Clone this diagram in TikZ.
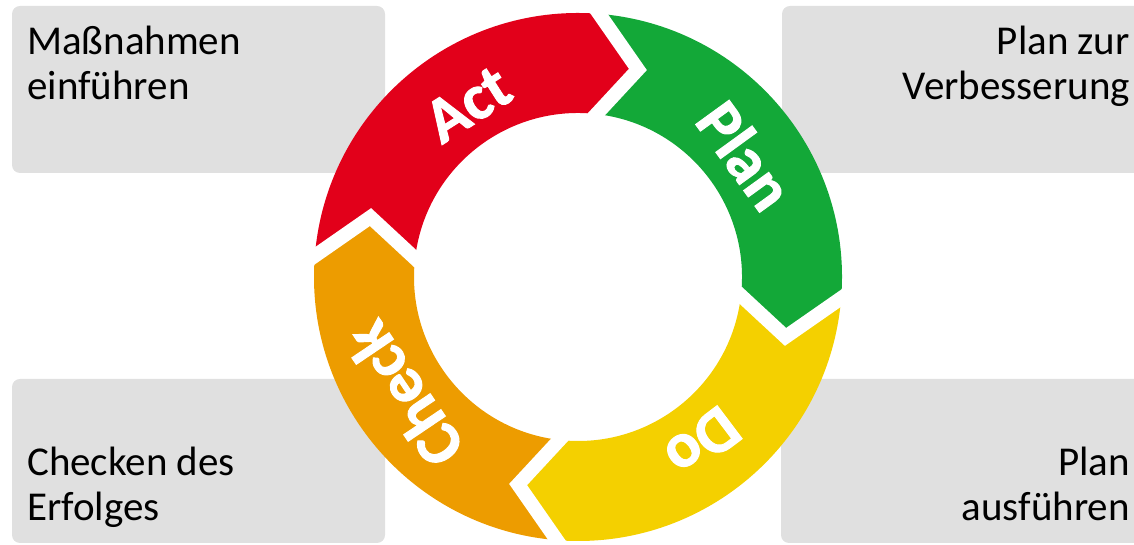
\documentclass[tikz,border=0pt]{standalone}
\usepackage{fontspec}
\setmainfont{Carlito}
\newfontfamily\ringfont{Carlito Bold}[FakeBold=1.5]
\usetikzlibrary{calc}
\definecolor{boxgray}{HTML}{E0E0E0}
\definecolor{actred}{HTML}{E2001A}
\definecolor{plangreen}{HTML}{13A838}
\definecolor{doyellow}{HTML}{F4D000}
\definecolor{checkorange}{HTML}{ED9C00}
\tikzset{
  greybox/.style={fill=boxgray, rounded corners=8pt},
  boxtext/.style={inner sep=0pt, font=\fontsize{41}{45}\selectfont, text=black},
  gapline/.style={draw=white, line width=14pt, line join=miter, line cap=butt},
  ringlabel/.style={inner sep=0pt, text=white, font=\ringfont\fontsize{64}{66}\selectfont}
}
\begin{document}
\begin{tikzpicture}[x=1pt,y=1pt]
\useasboundingbox (0,0) rectangle (1134,545);
% grey boxes
\fill[greybox] (12,372) rectangle (385,539);
\fill[greybox] (782,372) rectangle (1170,539);
\fill[greybox] (12,2) rectangle (385,166);
\fill[greybox] (781,2) rectangle (1170,166);
% box texts (base anchor = baseline of the last line)
\node[boxtext, anchor=base west, align=left] (ttl) at (27,445) {Maßnahmen\\einführen};
\node[boxtext, anchor=base east, align=right] (ttr) at (1130,445) {Plan zur\\Verbesserung};
\node[boxtext, anchor=base west, align=left] (tbl) at (27,24) {Checken des\\Erfolges};
\node[boxtext, anchor=base east, align=right] (tbr) at (1130,24) {Plan\\ausführen};
% ring
\begin{scope}[shift={(578,268)}]
\coordinate (TO) at (85.4:264pt);  \coordinate (TT) at (73.9:216pt);  \coordinate (TI) at (83.5:164pt);
\coordinate (RO) at (-4.6:264pt);  \coordinate (RT) at (-16.1:216pt); \coordinate (RI) at (-6.5:164pt);
\coordinate (BO) at (-94.6:264pt); \coordinate (BT) at (-106.1:216pt);\coordinate (BI) at (-96.5:164pt);
\coordinate (LO) at (175.4:264pt); \coordinate (LT) at (163.9:216pt); \coordinate (LI) at (173.5:164pt);
\fill[actred] (LO) arc[start angle=175.4, end angle=85.4, radius=264pt] -- (TT) -- (TI)
   arc[start angle=83.5, end angle=173.5, radius=164pt] -- (LT) -- cycle;
\fill[plangreen] (TO) arc[start angle=85.4, end angle=-4.6, radius=264pt] -- (RT) -- (RI)
   arc[start angle=-6.5, end angle=83.5, radius=164pt] -- (TT) -- cycle;
\fill[doyellow] (RO) arc[start angle=-4.6, end angle=-94.6, radius=264pt] -- (BT) -- (BI)
   arc[start angle=-96.5, end angle=-6.5, radius=164pt] -- (RT) -- cycle;
\fill[checkorange] (BO) arc[start angle=-94.6, end angle=-184.6, radius=264pt] -- (LT) -- (LI)
   arc[start angle=-186.5, end angle=-96.5, radius=164pt] -- (BT) -- cycle;
% white gaps
\foreach \j in {T,R,B,L}{
  \draw[gapline] ($(\j T)!1.12!(\j O)$) -- (\j T) -- ($(\j T)!1.12!(\j I)$);
}
% labels
\node[ringlabel, rotate=32.5] (lact) at (122.5:205pt) {Act};
\node[ringlabel, rotate=-54] (lplan) at (36:207pt) {Plan};
\node[ringlabel, rotate=-143] (ldo) at (-53:207pt) {Do};
\node[ringlabel, rotate=124] (lcheck) at (214:210pt) {Check};
\end{scope}
\end{tikzpicture}
\end{document}
